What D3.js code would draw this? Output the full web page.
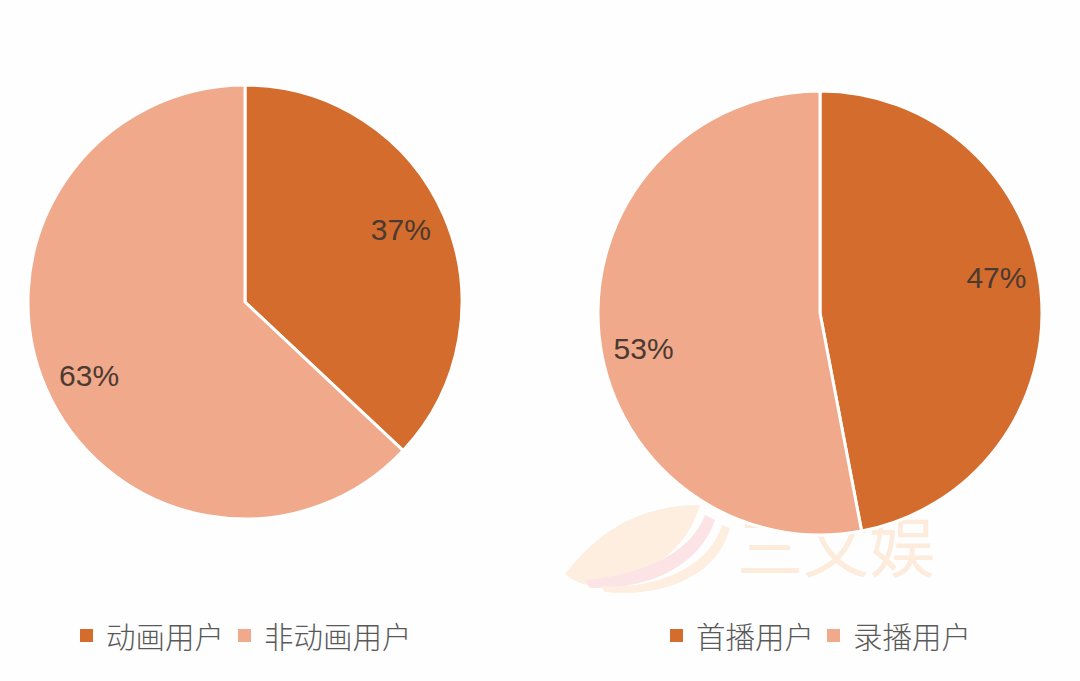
<!DOCTYPE html>
<html><head><meta charset="utf-8">
<script src="https://cdn.jsdelivr.net/npm/d3@7"></script>
<style>body{margin:0;background:#fefefe;}svg{display:block;}</style>
</head><body>
<svg id="c" width="1080" height="681"></svg>
<script>
const leftCategories = ["动画用户", "非动画用户"];
const leftValues = [37, 63];
const rightCategories = ["首播用户", "录播用户"];
const rightValues = [47, 53];
const colors = ["#D36C2D", "#F0A98B"];

const svg = d3.select("#c");
svg.append("rect").attr("width",1080).attr("height",681).attr("fill","#fefefe");

// watermark
const wm = svg.append("g");
wm.append("path").attr("d","M565,574 C600,530 640,505 700,505 C690,540 660,575 600,585 C585,587 575,582 565,574 Z").attr("fill","#fdeee0");
wm.append("path").attr("d","M585,580 C640,575 690,555 705,515 L715,520 C700,565 650,590 590,588 Z").attr("fill","#fbe3e6");
wm.append("path").attr("d","M600,586 C660,590 710,565 722,525 L730,528 C718,575 665,598 605,592 Z").attr("fill","#fdeee0");
wm.append("text").attr("x",737).attr("y",572).attr("font-family","Noto Sans CJK SC").attr("font-size",66).attr("fill","#fdebdc").text("三文娱");

function drawPie(cx, cy, r, values, labelR, angleShift) {
  const pie = d3.pie().sort(null).value(d=>d);
  const arc = d3.arc().innerRadius(0).outerRadius(r);
  const arcs = pie(values);
  const g = svg.append("g").attr("transform",`translate(${cx},${cy})`);
  g.selectAll("path").data(arcs).join("path")
    .attr("d",arc).attr("fill",(d,i)=>colors[i])
    .attr("stroke","#ffffff").attr("stroke-width",3).attr("stroke-linejoin","round");
  const pos = d => {
    const a = (d.startAngle + d.endAngle)/2 + angleShift*Math.PI/180;
    return [labelR*Math.sin(a), -labelR*Math.cos(a)];
  };
  g.selectAll("text").data(arcs).join("text")
    .attr("transform",d=>`translate(${pos(d)})`)
    .attr("text-anchor","middle").attr("dy","0.36em")
    .attr("font-family","Liberation Sans, Arial, sans-serif").attr("font-size",30)
    .attr("fill","#4b3a30").text(d=>d.data+"%");
}
drawPie(245, 302, 217, leftValues, 172, -1.6);
drawPie(820, 313, 222, rightValues, 180, -6);

function legend(items, positions) {
  items.forEach((t,i)=>{
    const x = positions[i];
    svg.append("rect").attr("x",x).attr("y",629).attr("width",13).attr("height",13).attr("fill",colors[i]);
    svg.append("text").attr("x",x+26).attr("y",648).attr("font-family","Noto Sans CJK SC").attr("font-weight",300)
      .attr("font-size",29.5).attr("fill","#595959").text(t);
  });
}
legend(leftCategories, [80, 238]);
legend(rightCategories, [670, 827]);
</script>
</body></html>
